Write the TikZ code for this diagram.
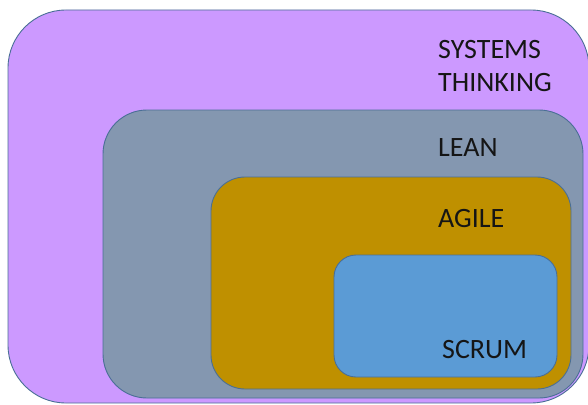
\documentclass[tikz,border=0pt]{standalone}
\usepackage{fontspec}
\setmainfont{Carlito}
\definecolor{cpurple}{HTML}{CC99FF}
\definecolor{cgray}{HTML}{8497B0}
\definecolor{cgold}{HTML}{BF9000}
\definecolor{cblue}{HTML}{5B9BD5}
\definecolor{cedge}{HTML}{4A6F96}
\definecolor{ctext}{HTML}{151515}
\tikzset{
  box/.style={draw=cedge, line width=0.9pt},
  lbl/.style={anchor=base west, inner sep=0pt, font=\fontsize{28}{34}\selectfont, text=ctext, align=left}
}
\begin{document}
\begin{tikzpicture}[x=1pt,y=-1pt]
\useasboundingbox (0,0) rectangle (588,404);
\clip (0,0) rectangle (588,404);
\fill[white] (0,0) rectangle (588,404);
\draw[box, fill=cpurple, rounded corners=58pt] (8,10) rectangle (589,403);
\draw[box, fill=cgray, rounded corners=44pt] (103,110) rectangle (583,398);
\draw[box, fill=cgold, rounded corners=34pt] (211,177) rectangle (571,389);
\draw[box, fill=cblue, rounded corners=22pt] (334,255) rectangle (557,377);
\node[lbl] (sys) at (438,58) {SYSTEMS};
\node[lbl] (thk) at (438,91) {THINKING};
\node[lbl] (lean) at (438,156) {LEAN};
\node[lbl] (agile) at (438,227) {AGILE};
\node[lbl] (scrum) at (442,358) {SCRUM};
\end{tikzpicture}
\end{document}
